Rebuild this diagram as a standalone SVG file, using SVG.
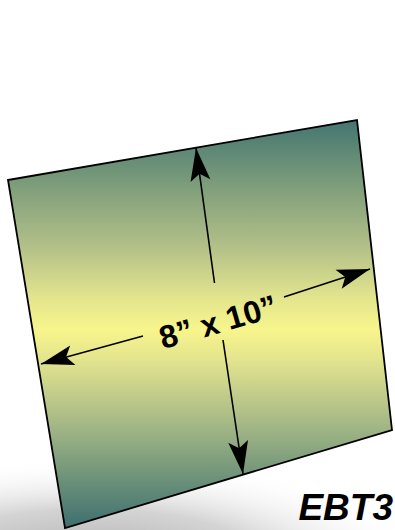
<svg xmlns="http://www.w3.org/2000/svg" width="395" height="530" viewBox="0 0 395 530">
  <defs>
    <linearGradient id="board" gradientUnits="userSpaceOnUse" x1="0" y1="120" x2="0" y2="528">
      <stop offset="0" stop-color="#437571"/>
      <stop offset="0.147" stop-color="#799a7a"/>
      <stop offset="0.32" stop-color="#b6c289"/>
      <stop offset="0.44" stop-color="#e4e68e"/>
      <stop offset="0.515" stop-color="#f8f58c"/>
      <stop offset="0.59" stop-color="#e2e38e"/>
      <stop offset="0.735" stop-color="#a9bb87"/>
      <stop offset="0.86" stop-color="#75977b"/>
      <stop offset="1" stop-color="#3d6f6f"/>
    </linearGradient>
    <radialGradient id="shadow" gradientUnits="userSpaceOnUse" cx="90" cy="560" r="340" gradientTransform="translate(90 560) scale(1 0.3) translate(-90 -560)">
      <stop offset="0" stop-color="#b0b0b0"/>
      <stop offset="0.5" stop-color="#d4d4d4"/>
      <stop offset="1" stop-color="#ffffff" stop-opacity="0"/>
    </radialGradient>
    <marker id="head" markerUnits="userSpaceOnUse" markerWidth="44" markerHeight="30" viewBox="-36 -15 44 30" refX="0" refY="0" orient="auto">
      <path d="M0,0 L-33,-10 L-26,0 L-33,10 Z" fill="#000"/>
    </marker>
    <style>
      .arrow { stroke: #000; stroke-width: 1.6; fill: none; marker-end: url(#head); }
      .lbl { font-family: "Liberation Sans", Arial, sans-serif; font-weight: bold; fill: #000; }
    </style>
  </defs>
  <rect width="395" height="530" fill="#ffffff"/>
  <rect x="0" y="420" width="395" height="110" fill="url(#shadow)"/>
  <g id="board-node">
    <polygon points="8,180 357,120 392,430 65,528" fill="url(#board)" stroke="#000" stroke-width="1.8" stroke-linejoin="miter"/>
  </g>
  <g id="connectors">
    <line class="arrow" x1="214.5" y1="283" x2="196" y2="148"/>
    <line class="arrow" x1="223" y1="340" x2="243" y2="474"/>
    <line class="arrow" x1="143" y1="336" x2="41" y2="364"/>
    <line class="arrow" x1="284" y1="297" x2="370" y2="269"/>
  </g>
  <g id="dim-label">
    <text class="lbl" x="218" y="333" font-size="32" text-anchor="middle" transform="rotate(-16 218 322)">8” x 10”</text>
  </g>
  <g id="ebt3-label">
    <text class="lbl" x="393" y="520" font-size="37" font-style="italic" text-anchor="end">EBT3</text>
  </g>
</svg>
